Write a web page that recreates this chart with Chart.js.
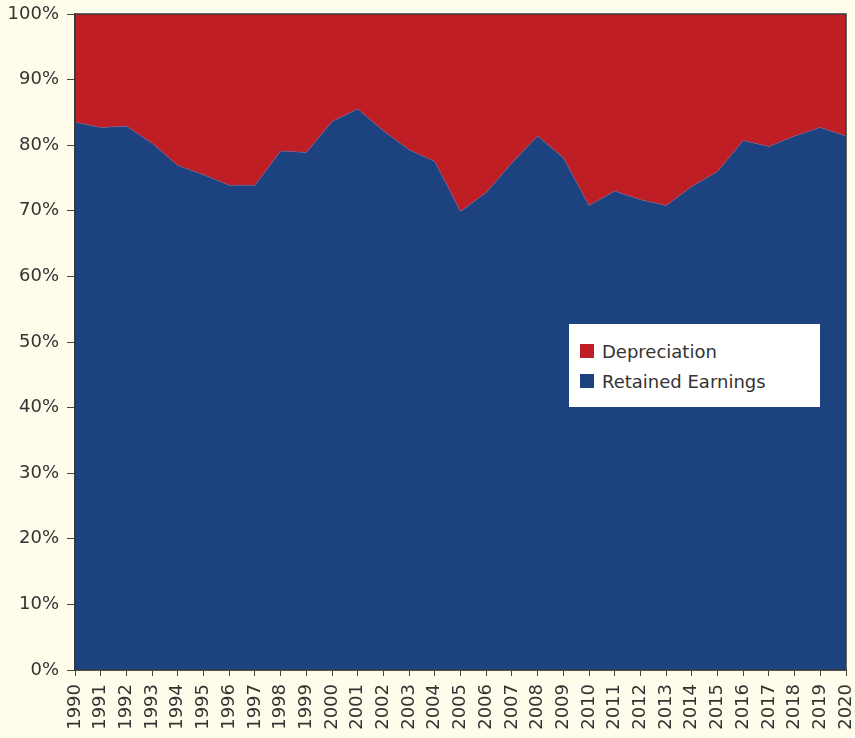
<!DOCTYPE html>
<html>
<head>
<meta charset="utf-8">
<script src="https://cdn.jsdelivr.net/npm/chart.js@4/dist/chart.umd.min.js"></script>
<style>
  html, body { margin: 0; padding: 0; background: #FFFCEB; }
  #wrap { position: relative; width: 855px; height: 738px; }
  #legend {
    position: absolute; left: 569px; top: 324px; width: 251px; height: 83px;
    background: #FFFFFF; box-sizing: border-box; padding: 12px 0 0 11px;
    font-family: "DejaVu Sans", sans-serif; font-size: 18px; color: #333333;
  }
  .item { display: flex; align-items: center; height: 30px; }
  .sw { width: 14px; height: 14px; margin-right: 8px; }
</style>
</head>
<body>
<div id="wrap">
  <canvas id="c" width="855" height="738"></canvas>
  <div id="legend"></div>
</div>
<script>
const years = ["1990","1991","1992","1993","1994","1995","1996","1997","1998","1999","2000","2001","2002","2003","2004","2005","2006","2007","2008","2009","2010","2011","2012","2013","2014","2015","2016","2017","2018","2019","2020"];
const retainedEarnings = [83.5,82.7,82.9,80.3,76.9,75.5,73.9,73.9,79.1,78.9,83.6,85.5,82.2,79.3,77.5,69.9,72.8,77.3,81.4,78.1,70.8,73.0,71.7,70.8,73.7,76.0,80.7,79.8,81.4,82.7,81.4];
const depreciation = [16.5,17.3,17.1,19.7,23.1,24.5,26.1,26.1,20.9,21.1,16.4,14.5,17.8,20.7,22.5,30.1,27.2,22.7,18.6,21.9,29.2,27.0,28.3,29.2,26.3,24.0,19.3,20.2,18.6,17.3,18.6];
const yTickLabels = ["0%","10%","20%","30%","40%","50%","60%","70%","80%","90%","100%"];
const seriesNames = ["Retained Earnings", "Depreciation"];
const colors = { retained: "#1C4280", depreciation: "#BE1E24" };

const frame = {
  id: "frame",
  afterDatasetsDraw(chart) {
    const a = chart.chartArea, ctx = chart.ctx;
    ctx.save();
    ctx.strokeStyle = "#3a3a3a";
    ctx.lineWidth = 1.5;
    ctx.strokeRect(a.left, a.top, a.right - a.left, a.bottom - a.top);
    ctx.restore();
  }
};

const chart = new Chart(document.getElementById("c"), {
  type: "line",
  data: {
    labels: years,
    datasets: [
      { label: seriesNames[0], data: retainedEarnings, backgroundColor: colors.retained, borderColor: "#7a5a8a", borderWidth: 0.6, fill: "origin", pointRadius: 0, tension: 0 },
      { label: seriesNames[1], data: depreciation, backgroundColor: colors.depreciation, borderColor: colors.depreciation, borderWidth: 0, fill: "-1", pointRadius: 0, tension: 0 }
    ]
  },
  options: {
    responsive: false,
    animation: false,
    layout: { padding: { top: 14, right: 9, left: 0, bottom: 0 } },
    plugins: { legend: { display: false }, tooltip: { enabled: false } },
    scales: {
      x: {
        offset: false,
        grid: { display: true, drawOnChartArea: false, drawTicks: true, tickLength: 6, color: "#444" },
        border: { display: true, color: "#3a3a3a", width: 1.5 },
        ticks: { autoSkip: false, maxRotation: 90, minRotation: 90, padding: 8, color: "#333", font: { family: "DejaVu Sans", size: 18 } },
        afterFit(s) { s.height = 68; s.paddingLeft = 0; s.paddingRight = 0; }
      },
      y: {
        stacked: true, min: 0, max: 100,
        grid: { display: true, drawOnChartArea: false, drawTicks: true, tickLength: 8, color: "#444" },
        border: { display: true, color: "#3a3a3a", width: 1.5 },
        ticks: { stepSize: 10, padding: 8, color: "#333", font: { family: "DejaVu Sans", size: 18 },
          callback: (v) => yTickLabels[Math.round(v / 10)] },
        afterFit(s) { s.width = 75; s.paddingTop = 0; s.paddingBottom = 0; }
      }
    }
  },
  plugins: [frame]
});

const lg = document.getElementById("legend");
[[seriesNames[1], colors.depreciation], [seriesNames[0], colors.retained]].forEach(([n, c]) => {
  const d = document.createElement("div"); d.className = "item";
  const s = document.createElement("div"); s.className = "sw"; s.style.background = c;
  const t = document.createElement("span"); t.textContent = n;
  d.appendChild(s); d.appendChild(t); lg.appendChild(d);
});
</script>
</body>
</html>
